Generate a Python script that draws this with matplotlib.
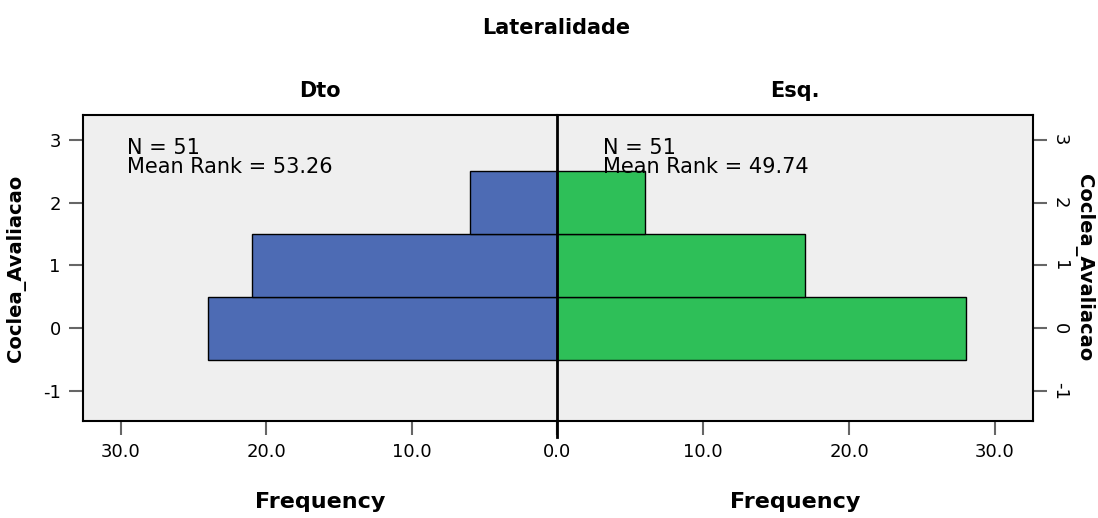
import numpy as np
import matplotlib.pyplot as plt

# Data: frequency of each Coclea_Avaliacao value by side
levels = [0, 1, 2]
dto_freq = [24, 21, 6]
esq_freq = [28, 17, 6]
stats_dto = "N = 51\nMean Rank = 53.26"
stats_esq = "N = 51\nMean Rank = 49.74"
xticks = [0, 10, 20, 30]
yticks = [-1, 0, 1, 2, 3]

blue = '#4d6bb4'
green = '#2ebf58'
bg = '#efefef'

fig = plt.figure(figsize=(10.98, 5.18), dpi=100)
axl = fig.add_axes([0.0756, 0.1873, 0.4317, 0.5907])
axr = fig.add_axes([0.5073, 0.1873, 0.4335, 0.5907], sharey=axl)

xmax = 32.6
for ax, freq, col in [(axl, dto_freq, blue), (axr, esq_freq, green)]:
    ax.set_facecolor(bg)
    ax.barh(levels, freq, height=1.0, color=col, edgecolor='black', linewidth=1)
    ax.set_xlim(0, xmax)
    ax.set_xticks(xticks)
    ax.set_xticklabels([f"{v:.1f}" for v in xticks], fontsize=13)
    ax.tick_params(axis='x', length=10, width=1.5, color='#666666', pad=6)
    ax.set_xlabel('Frequency', fontsize=16, fontweight='bold', labelpad=22)
    for s in ax.spines.values():
        s.set_linewidth(1.5)

axl.invert_xaxis()
# only one "0.0" label at the centre line
axl.set_xticklabels([''] + [f"{v:.1f}" for v in xticks[1:]], fontsize=13)
axl.set_ylim(-1.48, 3.4)
axl.set_yticks(yticks)
axl.set_yticklabels([str(v) for v in yticks], fontsize=13)
axl.tick_params(axis='y', length=10, width=1.5, color='#666666', pad=6)
axl.set_ylabel('Coclea_Avaliacao', fontsize=14, fontweight='bold', labelpad=12)
axl.spines['right'].set_visible(False)

axr.spines['left'].set_visible(False)
axr.tick_params(axis='y', left=False, labelleft=False, right=True, labelright=True,
                length=10, width=1.5, color='#666666', pad=3)
for lab in axr.get_yticklabels():
    lab.set_rotation(-90)
    lab.set_fontsize(13)
    lab.set_va('center')
fig.text(0.987, 0.483, 'Coclea_Avaliacao', fontsize=14, fontweight='bold',
         rotation=-90, ha='center', va='center')

# center line extending below the frame
axr.plot([0, 0], [-1.74, 3.4], color='black', lw=2, clip_on=False, zorder=5)

axl.text(29.6, 3.03, stats_dto, fontsize=15, va='top', ha='left', linespacing=0.95)
axr.text(3.15, 3.03, stats_esq, fontsize=15, va='top', ha='left', linespacing=0.95,
         zorder=6)

axl.set_title('Dto', fontsize=15, fontweight='bold', pad=13)
axr.set_title('Esq.', fontsize=15, fontweight='bold', pad=13)
fig.text(0.507, 0.945, 'Lateralidade', fontsize=15, fontweight='bold',
         ha='center', va='center')

fig.savefig('out.png', dpi=100, facecolor='white')
